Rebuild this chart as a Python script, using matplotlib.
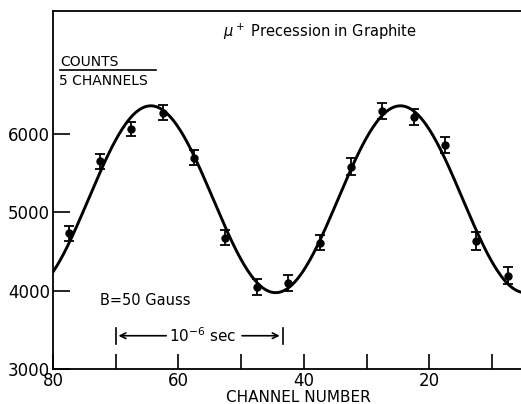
import numpy as np
import matplotlib
matplotlib.use('Agg')
import matplotlib.pyplot as plt

# data (channel centers, counts per 5 channels)
channels = [77.5, 72.5, 67.5, 62.5, 57.5, 52.5, 47.5, 42.5, 37.5, 32.5, 27.5, 22.5, 17.5, 12.5, 7.5]
counts = [4735, 5655, 6065, 6275, 5700, 4675, 4050, 4100, 4615, 5585, 6295, 6215, 5860, 4635, 4190]
errors = [95, 95, 95, 95, 100, 95, 100, 100, 100, 105, 105, 100, 105, 110, 110]

# fitted precession curve parameters
fit_mean = 5168
fit_amp = 1193
fit_period = 39.8  # channels
fit_peak = 64.4    # channel of first maximum

x_ticks = [80, 60, 40, 20]
x_minor = [70, 50, 30, 10]
y_ticks = [3000, 4000, 5000, 6000]

plt.rcParams['font.family'] = 'DejaVu Sans'

fig = plt.figure(figsize=(5.21, 4.04), dpi=100)
ax = fig.add_axes([0.1017, 0.0866, 0.8983, 0.8874])

xs = np.linspace(80, 5.37, 400)
ys = fit_mean + fit_amp * np.cos(2 * np.pi * (xs - fit_peak) / fit_period)
ax.plot(xs, ys, color='black', lw=2.1, solid_capstyle='round')

ax.errorbar(channels, counts, yerr=errors, fmt='o', color='black', ms=5,
            elinewidth=1.3, capsize=3.5, capthick=1.3)

ax.set_xlim(80, 5.37)
ax.set_ylim(3000, 7578)

ax.set_xticks(x_ticks)
ax.set_xticks(x_minor, minor=True)
ax.set_yticks(y_ticks)
ax.tick_params(axis='x', which='both', direction='in', length=11, width=1.2,
               labelsize=12, pad=2)
ax.tick_params(axis='y', direction='in', length=12, width=1.2, labelsize=12, pad=2)
ax.spines['right'].set_visible(False)
for s in ['left', 'top', 'bottom']:
    ax.spines[s].set_linewidth(1.3)

ax.set_xlabel('CHANNEL NUMBER', fontsize=11)
ax.xaxis.set_label_coords(0.5245, -0.058)

ax.text(37.5, 7300, r'$\mu^+$ Precession in Graphite', ha='center', va='center', fontsize=10.5)

# y label as a fraction
ax.text(78.9, 6921, 'COUNTS', ha='left', va='center', fontsize=10)
ax.plot([78.9, 63.6], [6815, 6815], color='black', lw=1.2)
ax.text(79.0, 6680, '5 CHANNELS', ha='left', va='center', fontsize=10)

ax.text(72.5, 3881, 'B=50 Gauss', ha='left', va='center', fontsize=10.5)

# 10^-6 sec bracket
ax.annotate('', xy=(70, 3425), xytext=(61.5, 3425),
            arrowprops=dict(arrowstyle='->', lw=1.2, color='black'))
ax.annotate('', xy=(43.4, 3425), xytext=(50.3, 3425),
            arrowprops=dict(arrowstyle='->', lw=1.2, color='black'))
ax.plot([43.4, 43.4], [3320, 3530], color='black', lw=1.2)
ax.plot([70, 70], [3320, 3530], color='black', lw=1.2)
ax.text(56.2, 3425, r'10$^{-6}$ sec', ha='center', va='center', fontsize=11)

fig.savefig('out.png', dpi=100)
